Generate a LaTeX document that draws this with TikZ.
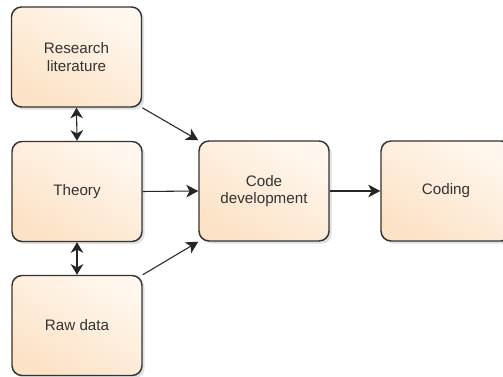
\documentclass[tikz,border=0pt]{standalone}
\usepackage{fontspec}
\setmainfont{Liberation Sans}
\usetikzlibrary{arrows.meta,shadows}
\definecolor{boxline}{HTML}{333333}
\definecolor{boxtop}{HTML}{FFF7EE}
\definecolor{boxbot}{HTML}{FCE2C6}
\definecolor{txt}{HTML}{333333}
\tikzset{
  px/.style={x=0.75pt,y=-0.75pt},
  procbox/.style={draw=boxline, line width=1.1pt, rounded corners=7.5pt,
    shading=axis, top color=boxtop, bottom color=boxbot, shading angle=-30,
    minimum width=97.5pt, minimum height=75pt, inner sep=0pt,
    font=\fontsize{11.4pt}{13pt}\selectfont, text=txt, align=center,
    drop shadow={shadow xshift=2pt, shadow yshift=-2pt, opacity=0.12, fill=black}},
  tip/.style={Stealth[length=9pt,width=9.5pt,inset=2.5pt]},
  conn/.style={draw=black!85, line width=0.8pt, -{Stealth[length=9pt,width=9.5pt,inset=2.5pt]}},
  dconn/.style={draw=black!85, line width=0.8pt, {Stealth[length=8pt,width=9.5pt,inset=2.5pt]}-{Stealth[length=8pt,width=9.5pt,inset=2.5pt]}}
}
\begin{document}
\begin{tikzpicture}[px]
\useasboundingbox (0,0) rectangle (503,377);
\begin{scope}
\clip (0,0) rectangle (503,377);
\node[procbox] (lit) at (76.5,57) {Research\\literature};
\node[procbox] (theory) at (77,191.5) {Theory};
\node[procbox] (raw) at (77,325.5) {Raw data};
\node[procbox] (code) at (264,191) {Code\\development};
\node[procbox] (coding) at (446,191) {Coding};
\end{scope}
\draw[conn] (lit.south east) -- (code.north west);
\draw[conn] (theory.east) -- (code.west);
\draw[conn] (raw.north east) -- (code.south west);
\draw[conn] (code.east) -- (coding.west);
\draw[dconn] (lit.south) -- (theory.north);
\draw[dconn] (theory.south) -- (raw.north);
\end{tikzpicture}
\end{document}
